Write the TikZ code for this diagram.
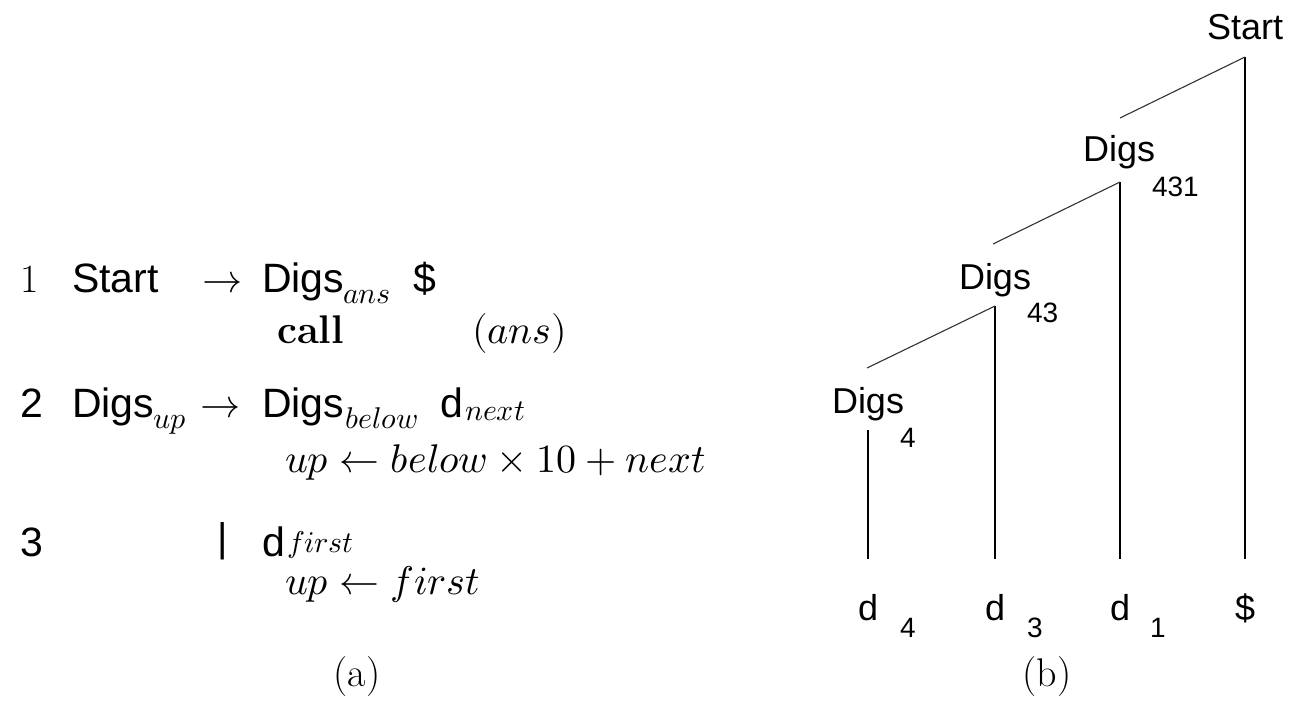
\documentclass[tikz,border=0pt]{standalone}
\usepackage{fontspec}
\usepackage{unicode-math}
\setmathfont{Latin Modern Math}
\newfontfamily\hv{Liberation Sans}
\tikzset{
 txt/.style={inner sep=0pt, outer sep=0pt, anchor=base west},
 ser/.style={txt, font=\fontsize{40}{48}\selectfont},
 sbig/.style={txt, font=\hv\fontsize{41}{48}\selectfont},
 ssub/.style={txt, font=\fontsize{30}{34}\selectfont},
 tlab/.style={txt, font=\hv\fontsize{36}{42}\selectfont},
 tsub/.style={txt, font=\hv\fontsize{28}{32}\selectfont},
 vline/.style={line width=1.8pt},
 dline/.style={line width=1.1pt, black!80},
}
\begin{document}
\begin{tikzpicture}[x=1pt,y=-1pt]
\fill[white] (0,0) rectangle (1289,703);
\path[use as bounding box] (0,0) rectangle (1289,703);
% (a) grammar
\node[ser] (n1) at (20,292) {1};
\node[sbig] (start) at (72,292) {Start};
\node[ser] (arr1) at (202,292) {$\rightarrow$};
\node[sbig] (digs1) at (262,292) {Digs};
\node[ssub] (ans1) at (343,303) {$ans$};
\node[sbig] (dollar) at (413,292) {\$};
\node[ser] (call) at (277,343) {\bfseries call};
\node[ser] (ansp) at (472,343) {$(ans)$};
\node[sbig] (n2) at (20,417) {2};
\node[sbig] (digsup) at (72,417) {Digs};
\node[ssub] (up) at (153,428) {$up$};
\node[ser] (arr2) at (200,417) {$\rightarrow$};
\node[sbig] (digsb) at (262,417) {Digs};
\node[ssub] (below) at (345,428) {$below$};
\node[sbig] (dn) at (440,417) {d};
\node[ssub] (next) at (465,420) {$next$};
\node[ser] (act2) at (285,472) {$up \leftarrow below \times 10 + next$};
\node[sbig] (n3) at (20,556) {3};
\node[txt, font=\hv\fontsize{40}{44}\selectfont] (bar) at (217,551) {|};
\node[sbig] (df) at (262,556) {d};
\node[ssub] (first) at (287,552) {$first$};
\node[ser] (act3) at (285,594) {$up \leftarrow first$};
\node[ser, anchor=base] (capa) at (357,686) {(a)};
\node[ser, anchor=base] (capb) at (1047,686) {(b)};
% (b) tree
\node[tlab, anchor=base] (tstart) at (1245,40) {Start};
\node[tlab] (g431) at (1083,162) {Digs};
\node[tsub] (s431) at (1152,197) {431};
\node[tlab] (g43) at (959,289) {Digs};
\node[tsub] (s43) at (1027,322) {43};
\node[tlab] (g4) at (832,413) {Digs};
\node[tsub] (s4) at (900,447) {4};
\node[tlab, anchor=base] (l4) at (868,620) {d};
\node[tsub] (l4s) at (900,637) {4};
\node[tlab, anchor=base] (l3) at (995,620) {d};
\node[tsub] (l3s) at (1027,637) {3};
\node[tlab, anchor=base] (l1) at (1120,620) {d};
\node[tsub] (l1s) at (1150,637) {1};
\node[tlab, anchor=base] (ld) at (1245,620) {\$};
\coordinate (a0) at (1245,57);
\coordinate (a1) at (1120,182);
\coordinate (a2) at (995,306);
\coordinate (a3) at (868,430);
\coordinate (b1) at (1120,118);
\coordinate (b2) at (993,244);
\coordinate (b3) at (867,368);
\coordinate (e0) at (1245,559);
\coordinate (e1) at (1120,559);
\coordinate (e2) at (995,559);
\coordinate (e3) at (868,559);
\draw[vline] (a0) -- (e0);
\draw[vline] (a1) -- (e1);
\draw[vline] (a2) -- (e2);
\draw[vline] (a3) -- (e3);
\draw[dline] (a0) -- (b1);
\draw[dline] (a1) -- (b2);
\draw[dline] (a2) -- (b3);
\end{tikzpicture}
\end{document}
